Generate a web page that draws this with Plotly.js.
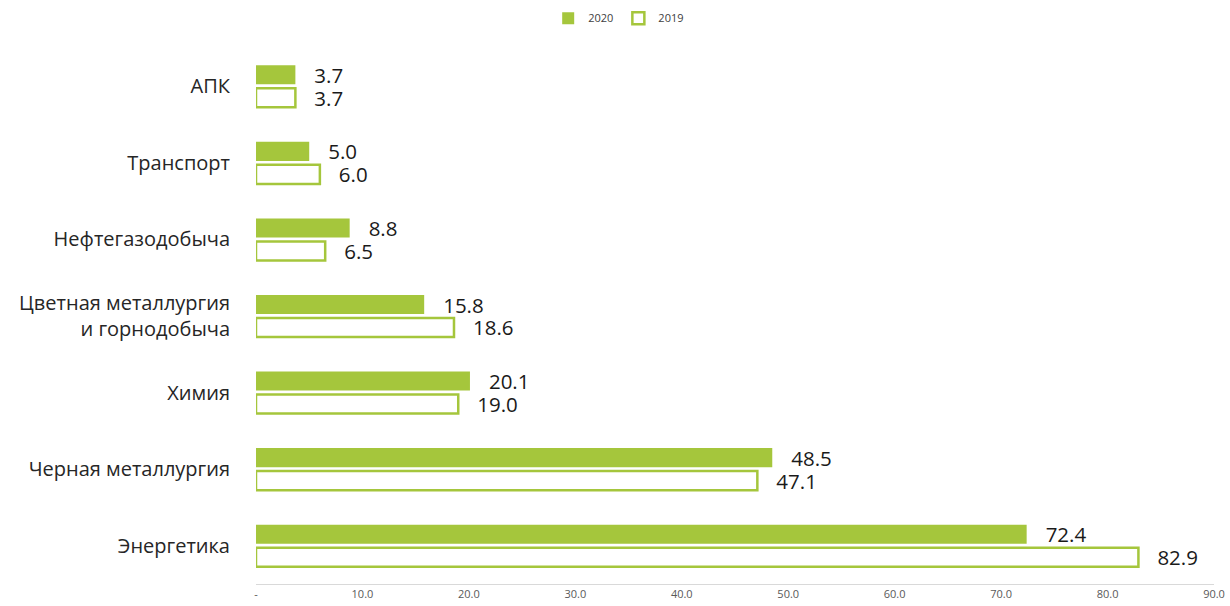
<!DOCTYPE html>
<html>
<head>
<meta charset="utf-8">
<script src="https://cdn.plot.ly/plotly-3.0.1.min.js"></script>
<style>html,body{margin:0;padding:0;background:#fff;}#chart{width:1230px;height:606px;}</style>
</head>
<body>
<div id="chart"></div>
<script>
const categories = ['АПК', 'Транспорт', 'Нефтегазодобыча', 'Цветная металлургия<br>и горнодобыча', 'Химия', 'Черная металлургия', 'Энергетика'];
const values2020 = [3.7, 5.0, 8.8, 15.8, 20.1, 48.5, 72.4];
const values2019 = [3.7, 6.0, 6.5, 18.6, 19.0, 47.1, 82.9];
const tickValues = [0, 10, 20, 30, 40, 50, 60, 70, 80, 90];
const tickLabels = ['-', '10.0', '20.0', '30.0', '40.0', '50.0', '60.0', '70.0', '80.0', '90.0'];

const green = '#a5c63c';
const pad = '\u00a0\u00a0\u00a0';
const fmt = v => pad + v.toFixed(1);

const traces = [
  {
    type: 'bar', orientation: 'h', name: '2020',
    y: categories, x: values2020,
    marker: {color: green, line: {color: green, width: 0}},
    text: values2020.map(fmt), textposition: 'outside', cliponaxis: false, constraintext: 'none',
    textfont: {family: 'Open Sans, sans-serif', size: 20.5, color: '#1a1a1a'},
    hoverinfo: 'x'
  },
  {
    type: 'bar', orientation: 'h', name: '2019',
    y: categories, x: values2019,
    marker: {color: '#ffffff', line: {color: green, width: 2.5}},
    text: values2019.map(fmt), textposition: 'outside', cliponaxis: false, constraintext: 'none',
    textfont: {family: 'Open Sans, sans-serif', size: 20.5, color: '#1a1a1a'},
    hoverinfo: 'x'
  }
];

const layout = {
  width: 1230, height: 606,
  margin: {l: 256, r: 16, t: 48, b: 22, autoexpand: false},
  paper_bgcolor: '#ffffff', plot_bgcolor: '#ffffff',
  barmode: 'group', bargap: 0.4, bargroupgap: 0.17,
  showlegend: true,
  legend: {
    orientation: 'h', xref: 'container', x: 0.503, xanchor: 'center',
    yref: 'container', y: 0.97, yanchor: 'middle',
    font: {family: 'Open Sans, sans-serif', size: 11, color: '#404040'},
    itemwidth: 30, tracegroupgap: 0, traceorder: 'normal'
  },
  xaxis: {
    range: [0, 90], tickvals: tickValues, ticktext: tickLabels,
    showgrid: false, zeroline: false, showline: true, linecolor: '#d9d9d9', linewidth: 1,
    ticks: '', tickfont: {family: 'Open Sans, sans-serif', size: 11, color: '#595959'},
    fixedrange: true
  },
  yaxis: {
    autorange: 'reversed', showgrid: false, zeroline: false, showline: false,
    ticks: 'outside', ticklen: 21, tickcolor: 'rgba(0,0,0,0)',
    tickfont: {family: 'Open Sans, sans-serif', size: 20, color: '#262626'},
    fixedrange: true
  }
};

Plotly.newPlot('chart', traces, layout, {displayModeBar: false, staticPlot: true});
</script>
</body>
</html>
